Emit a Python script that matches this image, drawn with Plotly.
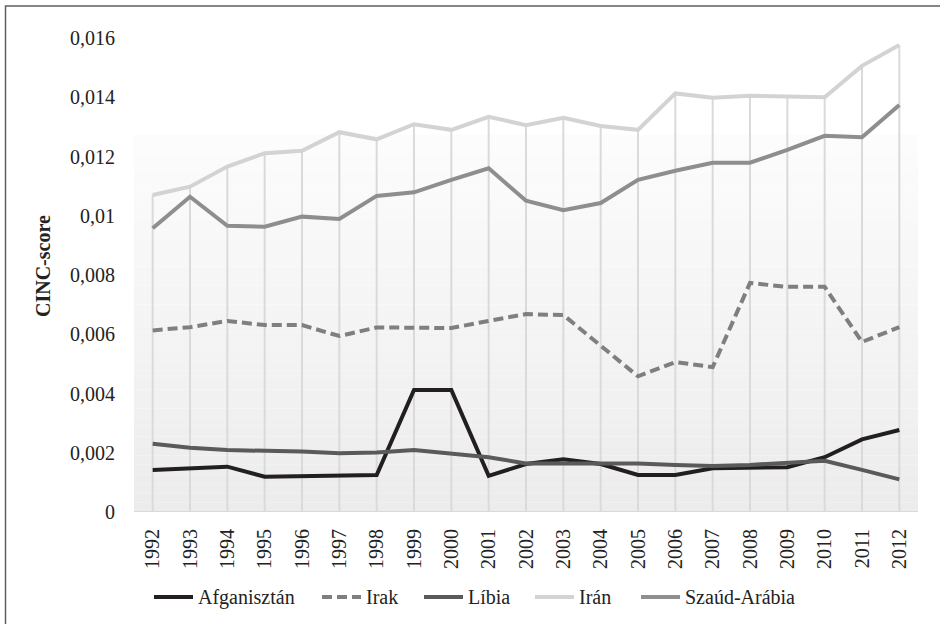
import plotly.graph_objects as go

years = [str(y) for y in range(1992, 2013)]

afganisztan = [0.00142, 0.00148, 0.00153, 0.00119, 0.00122, 0.00125, 0.00125, 0.00412, 0.00412, 0.00122,
               0.00162, 0.00178, 0.00162, 0.00125, 0.00125, 0.00148, 0.00150, 0.00151, 0.00185, 0.00245, 0.00277]
irak = [0.00613, 0.00624, 0.00645, 0.00631, 0.00631, 0.00594, 0.00623, 0.00621, 0.00621, 0.00645,
        0.00668, 0.00665, 0.00560, 0.00458, 0.00506, 0.00489, 0.00773, 0.00760, 0.00760, 0.00574, 0.00624]
libia = [0.00230, 0.00217, 0.00209, 0.00207, 0.00204, 0.00198, 0.00201, 0.00209, 0.00198, 0.00185,
         0.00164, 0.00164, 0.00162, 0.00164, 0.00159, 0.00155, 0.00159, 0.00166, 0.00173, 0.00142, 0.00110]
iran = [0.01070, 0.01098, 0.01166, 0.01211, 0.01219, 0.01282, 0.01258, 0.01309, 0.01290, 0.01334,
        0.01306, 0.01331, 0.01303, 0.01290, 0.01413, 0.01398, 0.01405, 0.01402, 0.01400, 0.01506, 0.01576]
szaud = [0.00958, 0.01064, 0.00966, 0.00963, 0.00997, 0.00989, 0.01067, 0.01079, 0.01121, 0.01160,
         0.01051, 0.01019, 0.01043, 0.01121, 0.01152, 0.01179, 0.01179, 0.01222, 0.01270, 0.01265, 0.01374]

y_tickvals = [0, 0.002, 0.004, 0.006, 0.008, 0.010, 0.012, 0.014, 0.016]
y_ticktext = ["0", "0,002", "0,004", "0,006", "0,008", "0,01", "0,012", "0,014", "0,016"]

FONT = "Liberation Serif"
TXT = "#222222"
FS = 20

L, R, T, B = 134, 22, 38, 112
W, H = 940, 624
PW, PH = W - L - R, H - T - B


def px_x(p):
    return (p - L) / PW


def px_y(p):
    return (H - B - p) / PH


fig = go.Figure()

# drop lines from axis to the highest series (Irán)
dx, dy = [], []
for yr, top in zip(years, iran):
    dx += [yr, yr, None]
    dy += [0, top, None]
fig.add_trace(go.Scatter(x=dx, y=dy, mode="lines", line=dict(color="#dadada", width=2),
                         showlegend=False, hoverinfo="skip"))

series = [
    ("Afganisztán", afganisztan, "#231f20", "solid"),
    ("Irak", irak, "#7f7f7f", "10px,5px"),
    ("Líbia", libia, "#5a5a5a", "solid"),
    ("Irán", iran, "#d3d3d3", "solid"),
    ("Szaúd-Arábia", szaud, "#8e8e8e", "solid"),
]
for name, vals, col, dash in series:
    fig.add_trace(go.Scatter(x=years, y=vals, mode="lines", name=name, showlegend=False,
                             line=dict(color=col, width=4, dash=dash)))

# gradient background band
n = 40
top_val = 0.01273
shapes = []
for i in range(n):
    y0 = top_val * i / n
    y1 = top_val * (i + 1) / n
    t = i / (n - 1)
    c = int(round(236 + (252 - 236) * t))
    shapes.append(dict(type="rect", xref="x", yref="y", x0=-0.5, x1=20.5, y0=y0, y1=y1,
                       fillcolor=f"rgb({c},{c},{c})", line=dict(width=0), layer="below"))
# axis baseline
shapes.append(dict(type="line", xref="x", yref="y", x0=-0.5, x1=20.5, y0=0, y1=0,
                   line=dict(color="#d9d9d9", width=2), layer="below"))
# outer frame (only left and top edges fall inside the picture)
shapes.append(dict(type="rect", xref="paper", yref="paper",
                   x0=px_x(5.5), x1=px_x(960), y0=px_y(660), y1=px_y(6),
                   line=dict(color="#5f5f5f", width=1.5), layer="above"))

annotations = [dict(text="<b>CINC-score</b>", xref="paper", yref="paper",
                    x=px_x(43), y=px_y(266), textangle=-90, xanchor="center", yanchor="middle",
                    showarrow=False, font=dict(family=FONT, size=FS, color=TXT))]

# legend drawn by hand (longer sample lines, as in the original)
legend_x = [152, 320, 422, 533, 639]
legend_y = 597
for (name, vals, col, dash), lx in zip(series, legend_x):
    shapes.append(dict(type="line", xref="paper", yref="paper",
                       x0=px_x(lx + 2), x1=px_x(lx + 41), y0=px_y(legend_y), y1=px_y(legend_y),
                       line=dict(color=col, width=4, dash=dash), layer="above"))
    annotations.append(dict(text=name, xref="paper", yref="paper", x=px_x(lx + 44),
                            y=px_y(legend_y), xanchor="left", yanchor="middle", showarrow=False,
                            font=dict(family=FONT, size=FS, color=TXT)))

fig.update_layout(
    width=W, height=H,
    margin=dict(l=L, r=R, t=T, b=B, autoexpand=False),
    paper_bgcolor="white", plot_bgcolor="white",
    font=dict(family=FONT, size=FS, color=TXT),
    shapes=shapes,
    showlegend=False,
    annotations=annotations,
)
fig.update_xaxes(type="category", range=[-0.5, 20.5], showgrid=False, zeroline=False,
                 showline=False, tickangle=-90, ticks="outside", ticklen=8, automargin=False,
                 tickcolor="rgba(0,0,0,0)", tickfont=dict(family=FONT, size=FS, color=TXT))
fig.update_yaxes(range=[0, 0.016], tickvals=y_tickvals, ticktext=y_ticktext, showgrid=False,
                 zeroline=False, showline=False, ticks="outside", ticklen=14, automargin=False,
                 tickcolor="rgba(0,0,0,0)", tickfont=dict(family=FONT, size=FS, color=TXT))

fig.write_html("out.html", config={"displayModeBar": False},
               post_script="document.body.style.margin='0px';document.body.style.overflow='hidden';")
